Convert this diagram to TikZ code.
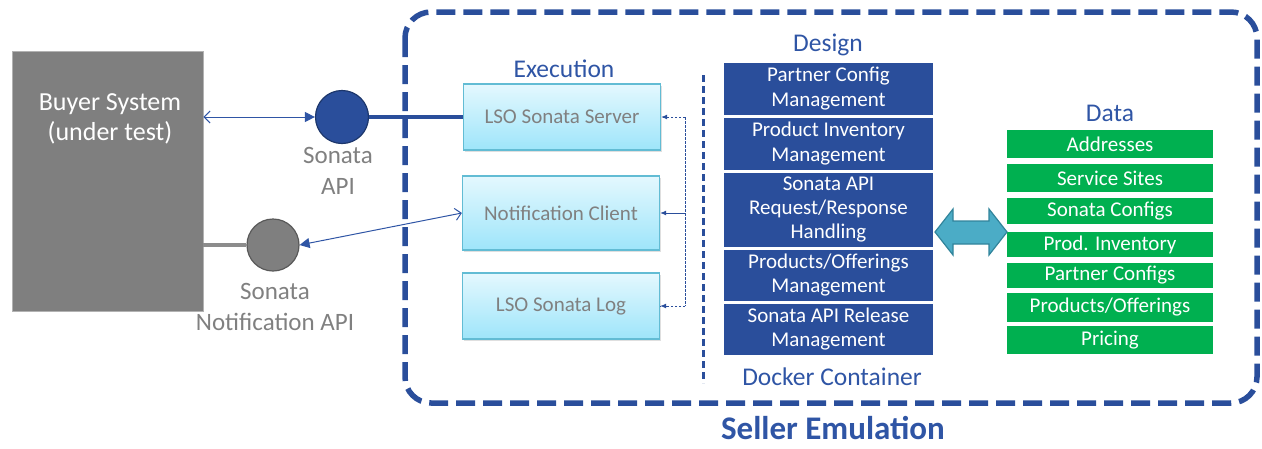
\documentclass[tikz,border=0pt]{standalone}
\usepackage{fontspec}
\setmainfont{Carlito}
\usetikzlibrary{arrows.meta,shadows,calc}
\definecolor{dblue}{HTML}{2A4E9B}
\definecolor{tblue}{HTML}{2F55A5}
\definecolor{bgray}{HTML}{7F7F7F}
\definecolor{tgray}{HTML}{808080}
\definecolor{dgreen}{HTML}{00B050}
\definecolor{cyanedge}{HTML}{62BCD4}
\definecolor{cyantop}{HTML}{E4F8FE}
\definecolor{cyanbot}{HTML}{9EE5FA}
\definecolor{teal}{HTML}{4BACC6}
\definecolor{tealedge}{HTML}{31849B}
\tikzset{
  x=1pt, y=-1pt,
  fs/.style={font=\fontsize{#1}{#1}\selectfont},
  title/.style={text=tblue, fs=25.5, inner sep=0pt},
  exebox/.style={draw=cyanedge, line width=1.2pt, top color=cyantop, bottom color=cyanbot,
    minimum width=197pt, minimum height=66pt, text=tgray, fs=21, inner sep=0pt,
    drop shadow={opacity=0.25, shadow xshift=1.5pt, shadow yshift=-1.5pt}},
  designbox/.style={fill=dblue, draw=dblue, text=white, minimum width=208pt, align=center,
    font=\fontsize{21}{24.3}\selectfont, inner sep=0pt},
  databox/.style={fill=dgreen, text=white, minimum width=206pt, fs=21, inner sep=0pt},
  apilabel/.style={text=tgray, align=center, font=\fontsize{25}{31}\selectfont, inner sep=0pt},
  thinarrow/.style={draw=tblue, line width=1pt, {Straight Barb[length=6pt,width=12pt]}-{Triangle[length=10pt,width=10pt]}},
  busline/.style={draw=dblue, line width=1pt, dash pattern=on 2.5pt off 1.5pt},
  bustip/.style={draw=dblue, line width=1pt, -{Latex[length=6pt,width=5pt]}},
}
\begin{document}
\begin{tikzpicture}
\useasboundingbox (0,0) rectangle (1262,448);
% outer dashed container
\draw[dblue, line width=5.5pt, dash pattern=on 19pt off 8pt, rounded corners=26pt] (405,12) rectangle (1257,403);
\node[text=tblue, font=\bfseries\fontsize{33}{36}\selectfont, inner sep=0pt] (seller) at (833,428) {Seller Emulation};

% buyer system
\node[fill=bgray, draw=gray!60, line width=0.8pt, minimum width=191pt, minimum height=260pt, inner sep=0pt] (buyer) at (107.5,181) {};
\node[text=white, align=center, font=\fontsize{26}{30}\selectfont, inner sep=0pt] (buyerlabel) at (110,119) {Buyer System\\(under test)};

% API circles
\node[circle, fill=dblue, draw=dblue!70!black, line width=1.2pt, minimum size=53pt, inner sep=0pt] (api) at (342,117) {};
\node[apilabel] (apilabel) at (338,171) {Sonata\\API};
\node[circle, fill=bgray, draw=bgray!70!black, line width=1.2pt, minimum size=52pt, inner sep=0pt] (notif) at (273,245) {};
\node[apilabel] (notiflabel) at (275,307) {Sonata\\Notification API};

% execution
\node[title] (exec) at (564,69) {Execution};
\node[exebox] (srv) at (562,117) {LSO Sonata Server};
\node[exebox, minimum height=74pt] (ncl) at (561,213) {Notification Client};
\node[exebox] (log) at (561,306) {LSO Sonata Log};

% connectors buyer side
\draw[thinarrow] (buyer.east |- api.west) -- (api.west);
\draw[dblue, line width=4pt] (api.east) -- (srv.west);
\draw[bgray!90!white, line width=4pt] (buyer.east |- notif.west) -- (notif.west);
\draw[draw=tblue, line width=1pt, {Triangle[length=10pt,width=10pt]}-{Straight Barb[length=6pt,width=12pt]}] (notif.east) -- (ncl.west);

% bus arrows
\coordinate (bt) at (685,117);
\coordinate (bm) at (685,213);
\coordinate (bb) at (685,306);
\draw[busline] (bt) -- (bb);
\draw[busline] (bt) -- (srv.east);
\draw[busline] (bb) -- (log.east);
\draw[bustip] ($(srv.east)+(6,0)$) -- (srv.east);
\draw[bustip] (bm) -- (ncl.east);
\draw[bustip] ($(log.east)+(6,0)$) -- (log.east);

% docker dashed line
\coordinate (dtop) at (703,75);
\coordinate (dbot) at (703,383);
\draw[dblue, line width=3pt, dash pattern=on 7pt off 4pt] (dtop) -- (dbot);

% design
\node[title] (design) at (828,45) {Design};
\node[designbox, minimum height=51pt] (d1) at (828.5,88.5) {Partner Config\\Management};
\node[designbox, minimum height=51pt] (d2) at (828.5,143.5) {Product Inventory\\Management};
\node[designbox, minimum height=73pt] (d3) at (828.5,209.5) {Sonata API\\Request/Response\\Handling};
\node[designbox, minimum height=50pt] (d4) at (828.5,275) {Products/Offerings\\Management};
\node[designbox, minimum height=50pt] (d5) at (828.5,329) {Sonata API Release\\Management};
\node[title] (docker) at (832,377) {Docker Container};

% data
\node[title] (data) at (1110,113) {Data};
\node[databox, minimum height=28pt] (e1) at (1110,144) {Addresses};
\node[databox, minimum height=28pt] (e2) at (1110,178) {Service Sites};
\node[databox, minimum height=26pt] (e3) at (1110,211) {Sonata Configs};
\node[databox, minimum height=25pt] (e4) at (1110,244.5) {Prod. Inventory};
\node[databox, minimum height=25pt] (e5) at (1110,275.5) {Partner Configs};
\node[databox, minimum height=29pt] (e6) at (1110,307.5) {Products/Offerings};
\node[databox, minimum height=28pt] (e7) at (1110,340) {Pricing};

% double arrow between design and data
\draw[fill=teal, draw=tealedge, line width=1.2pt, line join=miter]
  (935,232) -- (953,209) -- (953,221) -- (989,221) -- (989,209) -- (1007,232)
  -- (989,255) -- (989,244) -- (953,244) -- (953,255) -- cycle;
\end{tikzpicture}
\end{document}
